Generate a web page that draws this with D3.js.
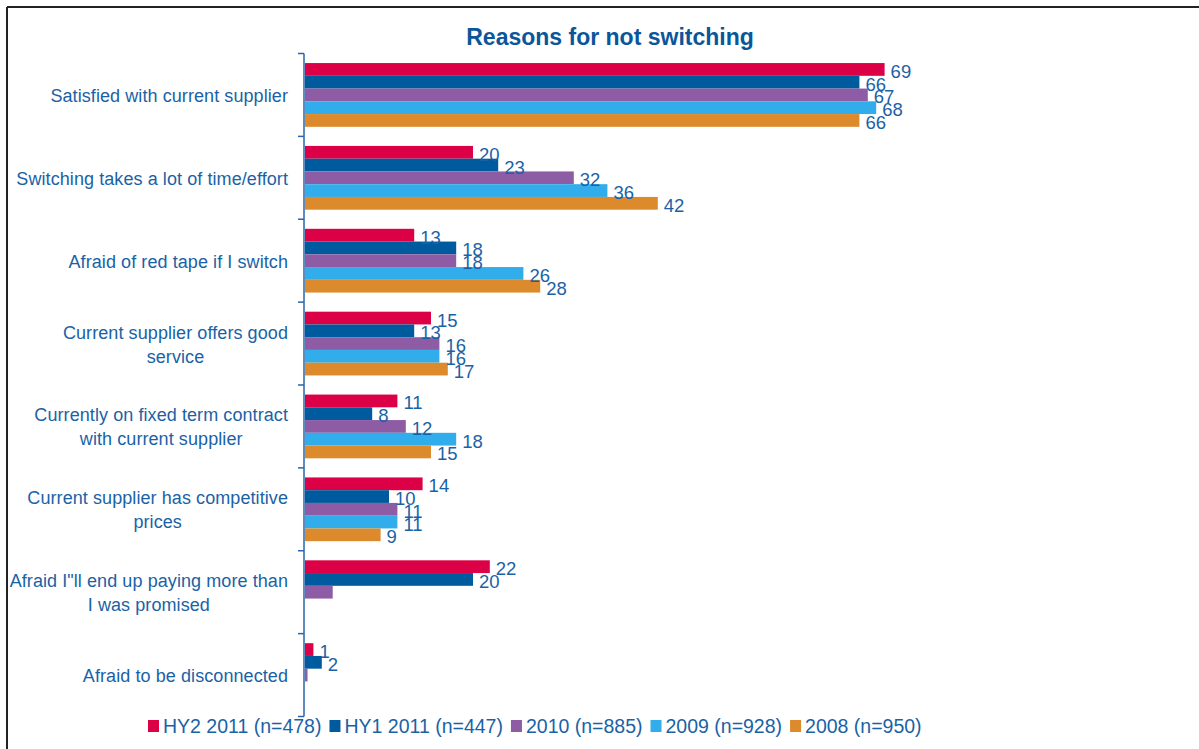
<!DOCTYPE html>
<html>
<head>
<meta charset="utf-8">
<script src="https://cdn.jsdelivr.net/npm/d3@7"></script>
<style>
  html, body { margin: 0; padding: 0; background: #fff; }
  svg { display: block; font-family: "Liberation Sans", Arial, sans-serif; }
</style>
</head>
<body>
<svg id="chart" width="1199" height="749"></svg>
<script>
// Reasons given for not switching supplier (% of respondents)
const categories = [
  ["Satisfied with current supplier"],
  ["Switching takes a lot of time/effort"],
  ["Afraid of red tape if I switch"],
  ["Current supplier offers good", "service"],
  ["Currently on fixed term contract", "with current supplier"],
  ["Current supplier has competitive", "prices"],
  ["Afraid I\"ll end up paying more than", "I was promised"],
  ["Afraid to be disconnected"]
];

const seriesNames = ["HY2 2011 (n=478)", "HY1 2011 (n=447)", "2010 (n=885)", "2009 (n=928)", "2008 (n=950)"];
const seriesColors = ["#dc0046", "#005a9e", "#8e5ca5", "#30adea", "#dc8a2c"];

const hy2_2011 = [69, 20, 13, 15, 11, 14, 22, 1];
const hy1_2011 = [66, 23, 18, 13, 8, 10, 20, 2];
const y2010    = [67, 32, 18, 16, 12, 11, 3.3, 0.3];
const y2009    = [68, 36, 26, 16, 18, 11, null, null];
const y2008    = [66, 42, 28, 17, 15, 9, null, null];

// 2010 values for the last two reasons carry no data label
const unlabeled2010 = [6, 7];

const seriesValues = [hy2_2011, hy1_2011, y2010, y2009, y2008];

const svg = d3.select("#chart");
const textColor = "#1a62a6";

// outer frame (left and top edges)
svg.append("line").attr("x1", 7).attr("x2", 1199).attr("y1", 7).attr("y2", 7)
  .attr("stroke", "#222").attr("stroke-width", 2);
svg.append("line").attr("x1", 7).attr("x2", 7).attr("y1", 7).attr("y2", 749)
  .attr("stroke", "#222").attr("stroke-width", 2);

// title
svg.append("text")
  .attr("x", 610).attr("y", 45)
  .attr("text-anchor", "middle")
  .attr("font-size", 23).attr("font-weight", "bold")
  .attr("fill", "#0b5699")
  .text("Reasons for not switching");

const x = d3.scaleLinear().domain([0, 80]).range([305, 977]);
const y = d3.scaleBand().domain(d3.range(categories.length)).range([53.5, 716.5]).paddingInner(0).paddingOuter(0);
const inner = d3.scaleBand().domain(d3.range(seriesNames.length))
  .range([0, y.bandwidth()]).paddingOuter(0.75).paddingInner(0);

// bars
seriesValues.forEach((vals, s) => {
  const g = svg.append("g");
  const rows = vals.map((v, i) => ({ v, i })).filter(d => d.v != null);
  g.selectAll("rect").data(rows).join("rect")
    .attr("x", x(0))
    .attr("y", d => y(d.i) + inner(s))
    .attr("width", d => x(d.v) - x(0))
    .attr("height", inner.bandwidth())
    .attr("fill", seriesColors[s]);
});

// value labels (drawn after all bars so they sit on top)
seriesValues.forEach((vals, s) => {
  const rows = vals.map((v, i) => ({ v, i }))
    .filter(d => d.v != null && !(s === 2 && unlabeled2010.includes(d.i)));
  svg.append("g").selectAll("text").data(rows).join("text")
    .attr("x", d => x(d.v) + 6)
    .attr("y", d => y(d.i) + inner(s) + inner.bandwidth() / 2 + 8.5)
    .attr("font-size", 18.5)
    .attr("fill", textColor)
    .text(d => d3.format("d")(d.v));
});

// category axis
const axisColor = "#2a66a8";
svg.append("line").attr("x1", 304).attr("x2", 304)
  .attr("y1", y.range()[0]).attr("y2", y.range()[1])
  .attr("stroke", axisColor).attr("stroke-width", 1.5);
const bounds = d3.range(categories.length + 1).map(i => y.range()[0] + i * y.bandwidth());
svg.append("g").selectAll("line").data(bounds).join("line")
  .attr("x1", 298).attr("x2", 304)
  .attr("y1", d => d).attr("y2", d => d)
  .attr("stroke", axisColor).attr("stroke-width", 1.5);

// category labels: block right-aligned, lines centered within the block
const labelRight = 288;
const lineH = 24;
categories.forEach((lines, i) => {
  const g = svg.append("g");
  const cy = y(i) + y.bandwidth() / 2;
  const texts = lines.map((ln, k) => g.append("text")
    .attr("font-size", 18).attr("letter-spacing", 0.08).attr("fill", textColor)
    .attr("text-anchor", "middle")
    .attr("y", cy + 7 + (k - (lines.length - 1) / 2) * lineH)
    .text(ln));
  const w = d3.max(texts, t => t.node().getComputedTextLength());
  texts.forEach(t => t.attr("x", labelRight - w / 2));
});

// legend
let lx = 148;
const legendY = 726;
seriesNames.forEach((name, s) => {
  svg.append("rect").attr("x", lx).attr("y", legendY - 6).attr("width", 11).attr("height", 12)
    .attr("fill", seriesColors[s]);
  const t = svg.append("text").attr("x", lx + 15).attr("y", legendY + 7)
    .attr("font-size", 19.5).attr("fill", textColor).text(name);
  lx += 15 + t.node().getComputedTextLength() + 8;
});
</script>
</body>
</html>
